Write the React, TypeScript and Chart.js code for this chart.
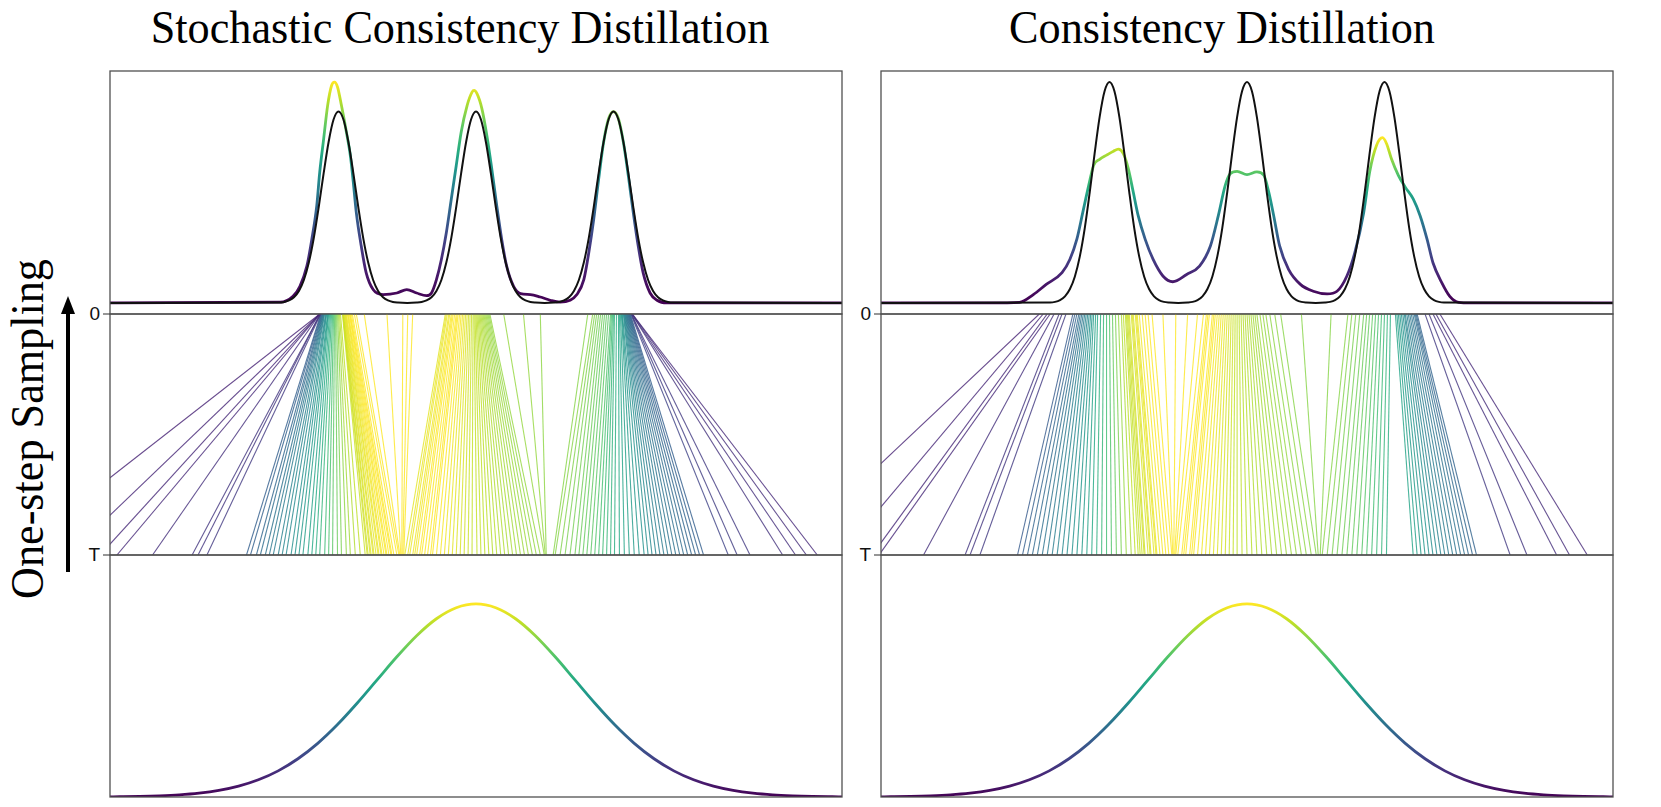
import React, { useEffect, useRef } from 'react';
import { Chart, registerables } from 'chart.js';

Chart.register(...registerables);

// ---------------- data (x in noise-space units, panel spans -3.7 .. 3.7) ----------------
// target density (black), shared by both top panels, peak height = 1
const targetX = [-3.7,
  -1.99, -1.94, -1.89, -1.84, -1.79, -1.74, -1.69, -1.64, -1.59, -1.54, -1.49, -1.44, -1.39, -1.34, -1.29, -1.24, -1.19, -1.14, -1.09, -1.04, -0.99, -0.94, -0.89, -0.84, -0.79,
  -0.695,
  -0.6, -0.55, -0.5, -0.45, -0.4, -0.35, -0.3, -0.25, -0.2, -0.15, -0.1, -0.05, 0, 0.05, 0.1, 0.15, 0.2, 0.25, 0.3, 0.35, 0.4, 0.45, 0.5, 0.55, 0.6,
  0.695,
  0.79, 0.84, 0.89, 0.94, 0.99, 1.04, 1.09, 1.14, 1.19, 1.24, 1.29, 1.34, 1.39, 1.44, 1.49, 1.54, 1.59, 1.64, 1.69, 1.74, 1.79, 1.84, 1.89, 1.94, 1.99,
  3.7];
const targetY = [0,
  0.002, 0.005, 0.013, 0.030, 0.063, 0.120, 0.211, 0.339, 0.501, 0.678, 0.841, 0.958, 1.0, 0.958, 0.841, 0.678, 0.501, 0.339, 0.211, 0.120, 0.063, 0.030, 0.013, 0.005, 0.002,
  0,
  0.002, 0.005, 0.013, 0.030, 0.063, 0.120, 0.211, 0.339, 0.501, 0.678, 0.841, 0.958, 1.0, 0.958, 0.841, 0.678, 0.501, 0.339, 0.211, 0.120, 0.063, 0.030, 0.013, 0.005, 0.002,
  0,
  0.002, 0.005, 0.013, 0.030, 0.063, 0.120, 0.211, 0.339, 0.501, 0.678, 0.841, 0.958, 1.0, 0.958, 0.841, 0.678, 0.501, 0.339, 0.211, 0.120, 0.063, 0.030, 0.013, 0.005, 0.002,
  0];

// Stochastic Consistency Distillation: generated density
const scdX = [-3.7, -1.98, -1.85, -1.78, -1.71, -1.66, -1.61, -1.58, -1.54, -1.50, -1.46, -1.43, -1.40, -1.36, -1.31, -1.27, -1.24, -1.21, -1.16, -1.11, -1.04, -0.94, -0.80, -0.70, -0.60, -0.50, -0.45, -0.40, -0.35, -0.30, -0.25, -0.20, -0.15, -0.09, -0.04, -0.02, 0.01, 0.06, 0.11, 0.16, 0.21, 0.26, 0.31, 0.38, 0.45, 0.55, 0.65, 0.75, 0.85, 0.95, 1.02, 1.09, 1.14, 1.19, 1.24, 1.29, 1.34, 1.39, 1.44, 1.49, 1.54, 1.59, 1.64, 1.69, 1.76, 1.83, 1.93, 3.7];
const scdY = [0, 0.004, 0.035, 0.087, 0.192, 0.332, 0.507, 0.682, 0.857, 1.031, 1.136, 1.154, 1.128, 1.031, 0.892, 0.769, 0.629, 0.472, 0.297, 0.157, 0.070, 0.044, 0.052, 0.070, 0.052, 0.038, 0.052, 0.122, 0.227, 0.367, 0.542, 0.717, 0.892, 1.031, 1.101, 1.110, 1.093, 1.014, 0.874, 0.699, 0.507, 0.332, 0.192, 0.087, 0.049, 0.044, 0.031, 0.014, 0.004, 0.014, 0.044, 0.122, 0.262, 0.437, 0.647, 0.839, 0.962, 1.0, 0.962, 0.839, 0.664, 0.472, 0.297, 0.157, 0.052, 0.014, 0, 0];

// Consistency Distillation: generated density
const cdX = [-3.7, -2.60, -2.30, -2.16, -2.03, -1.87, -1.79, -1.72, -1.66, -1.60, -1.55, -1.49, -1.42, -1.35, -1.30, -1.25, -1.20, -1.15, -1.10, -1.03, -0.95, -0.85, -0.75, -0.61, -0.48, -0.37, -0.29, -0.22, -0.17, -0.10, 0.0, 0.10, 0.17, 0.22, 0.27, 0.33, 0.42, 0.54, 0.67, 0.81, 0.91, 1.01, 1.09, 1.18, 1.24, 1.31, 1.37, 1.41, 1.46, 1.53, 1.60, 1.68, 1.75, 1.82, 1.88, 1.97, 2.05, 2.14, 2.26, 3.7];
const cdY = [0, 0, 0.003, 0.038, 0.084, 0.137, 0.198, 0.289, 0.410, 0.532, 0.623, 0.650, 0.669, 0.687, 0.696, 0.676, 0.608, 0.502, 0.395, 0.289, 0.198, 0.122, 0.096, 0.129, 0.167, 0.258, 0.395, 0.532, 0.585, 0.596, 0.581, 0.593, 0.578, 0.502, 0.395, 0.258, 0.152, 0.084, 0.053, 0.041, 0.053, 0.122, 0.228, 0.410, 0.593, 0.714, 0.748, 0.722, 0.653, 0.578, 0.524, 0.471, 0.395, 0.289, 0.182, 0.091, 0.030, 0.003, 0, 0];

// noise density (bottom panels)
const noiseX = [-3.7, -3.6, -3.4, -3.2, -3.0, -2.8, -2.6, -2.4, -2.2, -2.0, -1.8, -1.6, -1.4, -1.2, -1.0, -0.8, -0.6, -0.4, -0.2, 0, 0.2, 0.4, 0.6, 0.8, 1.0, 1.2, 1.4, 1.6, 1.8, 2.0, 2.2, 2.4, 2.6, 2.8, 3.0, 3.2, 3.4, 3.6, 3.7];
const noiseY = [0.0004, 0.0006, 0.0012, 0.0024, 0.0044, 0.0079, 0.0136, 0.0224, 0.0355, 0.0540, 0.0790, 0.1109, 0.1497, 0.1942, 0.2420, 0.2897, 0.3332, 0.3683, 0.3910, 0.3989, 0.3910, 0.3683, 0.3332, 0.2897, 0.2420, 0.1942, 0.1497, 0.1109, 0.0790, 0.0540, 0.0355, 0.0224, 0.0136, 0.0079, 0.0044, 0.0024, 0.0012, 0.0006, 0.0004];

// one-step trajectories: start at T (x_T), end at 0 (x_0), colour shade (0..1 viridis)
const scdStart = [
  -4.70, -4.12, -3.80, -3.63, -3.27, -2.87, -2.81, -2.72,
  -2.32, -2.28, -2.22, -2.18, -2.13, -2.09, -2.05, -2.00, -1.96, -1.92, -1.87, -1.83, -1.79, -1.75, -1.70, -1.66, -1.62, -1.58, -1.53, -1.49, -1.45, -1.40, -1.36, -1.31, -1.27, -1.22, -1.17,
  -1.12, -1.10, -1.09, -1.07, -1.06, -1.04, -1.03, -1.01, -0.99, -0.98, -0.96, -0.95, -0.93, -0.91, -0.90, -0.88, -0.86, -0.85, -0.83, -0.80, -0.78,
  -0.77, -0.76, -0.75, -0.74, -0.73,
  -0.72, -0.69, -0.67, -0.64, -0.62, -0.60, -0.57, -0.55, -0.52, -0.49, -0.46, -0.44, -0.40, -0.36, -0.32, -0.28, -0.24, -0.20, -0.16, -0.12, -0.08, -0.04,
  0.01, 0.05, 0.09, 0.13, 0.17, 0.21, 0.25, 0.29, 0.33, 0.37, 0.41, 0.45, 0.49, 0.53, 0.57, 0.61, 0.65,
  0.69, 0.70, 0.71, 0.78,
  0.80, 0.85, 0.90, 0.95, 1.00, 1.04, 1.08, 1.12, 1.16, 1.20, 1.24, 1.28, 1.32, 1.36, 1.40,
  1.45, 1.50, 1.55, 1.60, 1.65, 1.70, 1.74, 1.78, 1.82, 1.86, 1.90, 1.94, 1.98, 2.02, 2.06, 2.10, 2.14, 2.18, 2.22, 2.26, 2.30,
  2.55, 2.64, 2.77, 3.10, 3.23, 3.34, 3.45];
const scdEnd = [
  -1.58, -1.58, -1.58, -1.58, -1.58, -1.575, -1.575, -1.57,
  -1.57, -1.565, -1.56, -1.555, -1.55, -1.545, -1.54, -1.535, -1.53, -1.52, -1.515, -1.51, -1.50, -1.495, -1.49, -1.48, -1.47, -1.46, -1.45, -1.44, -1.43, -1.42, -1.41, -1.40, -1.39, -1.38, -1.37,
  -1.35, -1.347, -1.345, -1.342, -1.34, -1.335, -1.33, -1.325, -1.32, -1.315, -1.31, -1.30, -1.295, -1.29, -1.28, -1.275, -1.27, -1.26, -1.25, -1.23, -1.21,
  -1.13, -0.90, -0.74, -0.69, -0.64,
  -0.31, -0.30, -0.29, -0.275, -0.265, -0.25, -0.24, -0.23, -0.215, -0.20, -0.19, -0.18, -0.165, -0.15, -0.135, -0.12, -0.105, -0.09, -0.075, -0.06, -0.045, -0.03,
  -0.02, -0.01, 0.0, 0.01, 0.02, 0.03, 0.04, 0.05, 0.06, 0.07, 0.08, 0.09, 0.10, 0.11, 0.12, 0.13, 0.14,
  0.28, 0.48, 0.65, 1.13,
  1.18, 1.20, 1.22, 1.24, 1.26, 1.28, 1.30, 1.32, 1.34, 1.36, 1.37, 1.38, 1.39, 1.40, 1.42,
  1.44, 1.45, 1.46, 1.47, 1.475, 1.48, 1.49, 1.495, 1.50, 1.505, 1.51, 1.515, 1.52, 1.525, 1.53, 1.535, 1.54, 1.545, 1.55, 1.555, 1.56,
  1.565, 1.57, 1.57, 1.575, 1.575, 1.58, 1.58];
const scdShade = [
  0.10, 0.11, 0.12, 0.12, 0.14, 0.16, 0.16, 0.17,
  0.30, 0.31, 0.33, 0.35, 0.37, 0.39, 0.41, 0.43, 0.45, 0.47, 0.49, 0.51, 0.53, 0.55, 0.57, 0.60, 0.62, 0.65, 0.68, 0.71, 0.74, 0.77, 0.80, 0.83, 0.86, 0.88, 0.90,
  0.92, 0.93, 0.93, 0.94, 0.95, 0.95, 0.96, 0.96, 0.97, 0.97, 0.98, 0.98, 0.99, 0.99, 1.0, 1.0, 1.0, 1.0, 1.0, 1.0, 1.0,
  1.0, 1.0, 1.0, 1.0, 1.0,
  0.96, 0.97, 0.97, 0.98, 0.98, 0.99, 1.0, 1.0, 1.0, 1.0, 1.0, 1.0, 1.0, 0.99, 0.98, 0.97, 0.96, 0.95, 0.94, 0.93, 0.92, 0.91,
  0.91, 0.91, 0.90, 0.90, 0.89, 0.89, 0.88, 0.88, 0.87, 0.87, 0.86, 0.86, 0.85, 0.85, 0.84, 0.84, 0.84,
  0.84, 0.84, 0.83, 0.82,
  0.82, 0.81, 0.80, 0.79, 0.78, 0.77, 0.76, 0.75, 0.74, 0.72, 0.70, 0.68, 0.66, 0.64, 0.62,
  0.60, 0.58, 0.56, 0.54, 0.52, 0.50, 0.48, 0.46, 0.44, 0.42, 0.41, 0.40, 0.38, 0.37, 0.36, 0.35, 0.34, 0.33, 0.32, 0.31, 0.30,
  0.20, 0.18, 0.17, 0.15, 0.14, 0.13, 0.12];

const cdStart = [
  -4.68, -4.11, -3.79, -3.72, -3.27, -2.85, -2.80, -2.70,
  -2.32, -2.27, -2.22, -2.17, -2.12, -2.07, -2.02, -1.97, -1.92, -1.87, -1.82, -1.77, -1.72, -1.67,
  -1.62, -1.57, -1.52, -1.47, -1.42, -1.37, -1.32, -1.27, -1.22, -1.17,
  -1.13, -1.10, -1.08, -1.06, -1.04, -1.03, -1.00, -0.98, -0.97, -0.94, -0.92, -0.91, -0.88, -0.85, -0.82, -0.79, -0.76,
  -0.75, -0.74, -0.73, -0.72,
  -0.70, -0.66, -0.64, -0.62, -0.58, -0.56, -0.54, -0.50, -0.46, -0.42, -0.38, -0.34, -0.30, -0.26, -0.22, -0.18, -0.14,
  -0.10, -0.05, 0.00, 0.05, 0.10, 0.15, 0.20, 0.25, 0.30, 0.35, 0.40, 0.45, 0.50, 0.55, 0.60, 0.65, 0.70,
  0.72, 0.74,
  0.76, 0.81, 0.86, 0.91, 0.96, 1.01, 1.06, 1.11, 1.16, 1.21, 1.26, 1.31, 1.36, 1.41,
  1.68, 1.72, 1.76, 1.80, 1.84, 1.88, 1.92, 1.96, 2.00, 2.04, 2.08, 2.12, 2.16, 2.20, 2.24, 2.28, 2.32,
  2.66, 2.83, 3.13, 3.26, 3.44];
const cdEnd = [
  -2.10, -2.06, -2.02, -1.99, -1.95, -1.90, -1.87, -1.83,
  -1.76, -1.74, -1.72, -1.70, -1.685, -1.67, -1.655, -1.64, -1.625, -1.61, -1.595, -1.58, -1.565, -1.55,
  -1.53, -1.51, -1.48, -1.45, -1.42, -1.39, -1.36, -1.33, -1.30, -1.27,
  -1.25, -1.23, -1.22, -1.21, -1.20, -1.19, -1.17, -1.16, -1.15, -1.13, -1.12, -1.11, -1.09, -1.06, -1.03, -1.00, -0.96,
  -0.85, -0.72, -0.60, -0.50,
  -0.44, -0.41, -0.395, -0.38, -0.35, -0.335, -0.32, -0.30, -0.28, -0.26, -0.24, -0.22, -0.20, -0.18, -0.16, -0.14, -0.12,
  -0.10, -0.08, -0.06, -0.04, -0.02, 0.00, 0.02, 0.04, 0.06, 0.08, 0.10, 0.13, 0.16, 0.19, 0.23, 0.28, 0.34,
  0.55, 0.85,
  1.02, 1.06, 1.10, 1.14, 1.18, 1.21, 1.24, 1.27, 1.30, 1.33, 1.36, 1.39, 1.42, 1.45,
  1.50, 1.515, 1.53, 1.545, 1.56, 1.575, 1.59, 1.60, 1.615, 1.63, 1.645, 1.66, 1.675, 1.69, 1.70, 1.71, 1.72,
  1.80, 1.84, 1.88, 1.91, 1.95];
const cdShade = [
  0.10, 0.11, 0.12, 0.12, 0.14, 0.16, 0.16, 0.17,
  0.28, 0.30, 0.32, 0.34, 0.36, 0.38, 0.40, 0.42, 0.44, 0.46, 0.48, 0.50, 0.52, 0.54,
  0.57, 0.60, 0.63, 0.66, 0.69, 0.72, 0.76, 0.80, 0.84, 0.87,
  0.90, 0.91, 0.91, 0.92, 0.93, 0.93, 0.94, 0.95, 0.95, 0.96, 0.97, 0.97, 0.98, 0.99, 1.0, 1.0, 1.0,
  1.0, 1.0, 1.0, 1.0,
  1.0, 1.0, 1.0, 1.0, 1.0, 1.0, 0.99, 0.99, 0.98, 0.98, 0.97, 0.96, 0.95, 0.94, 0.93, 0.92, 0.91,
  0.90, 0.90, 0.89, 0.89, 0.88, 0.88, 0.87, 0.87, 0.86, 0.86, 0.85, 0.85, 0.84, 0.84, 0.83, 0.83, 0.82,
  0.82, 0.82,
  0.82, 0.81, 0.80, 0.79, 0.78, 0.77, 0.76, 0.75, 0.73, 0.71, 0.69, 0.67, 0.65, 0.62,
  0.58, 0.56, 0.54, 0.52, 0.50, 0.48, 0.46, 0.44, 0.42, 0.41, 0.40, 0.38, 0.37, 0.36, 0.34, 0.33, 0.32,
  0.17, 0.16, 0.14, 0.13, 0.12];

const titles = ['Stochastic Consistency Distillation', 'Consistency Distillation'];
const yAxisLabel = 'One-step Sampling';
const timeTicks = ['0', 'T'];

// ---------------- styling / layout ----------------
const X_MIN = -3.7;
const X_MAX = 3.7;
const PAD = 4;
const COL_LEFT = [110, 881];
const TITLE_CX = [460, 1222];
const PANEL_W = 732;
const ROW_TOP = [71, 314, 555];
const ROW_H = [243, 241, 242];
const SERIF = '"Liberation Serif", "Times New Roman", serif';

const VIRIDIS = ['#440154', '#482475', '#414487', '#355f8d', '#2a788e', '#21918c', '#22a884', '#44bf70', '#7ad151', '#bddf26', '#fde725'];

function hexRgb(h: string): number[] {
  return [parseInt(h.slice(1, 3), 16), parseInt(h.slice(3, 5), 16), parseInt(h.slice(5, 7), 16)];
}
function viridis(t: number, alpha = 1): string {
  const v = Math.min(1, Math.max(0, t)) * 10;
  const i = Math.min(9, Math.floor(v));
  const f = v - i;
  const a = hexRgb(VIRIDIS[i]);
  const b = hexRgb(VIRIDIS[i + 1]);
  const c = a.map((ai, k) => Math.round(ai + (b[k] - ai) * f));
  return `rgba(${c[0]},${c[1]},${c[2]},${alpha})`;
}

function heightGradient(chart: any, maxVal: number, gamma: number) {
  const { ctx, chartArea, scales } = chart;
  if (!chartArea || !scales || !scales.y) return VIRIDIS[0];
  const y0 = scales.y.getPixelForValue(0);
  const y1 = scales.y.getPixelForValue(maxVal);
  const g = ctx.createLinearGradient(0, y0, 0, y1);
  for (let i = 0; i <= 24; i++) {
    const p = i / 24;
    g.addColorStop(p, viridis(Math.pow(p, gamma)));
  }
  return g;
}

const framePlugin = {
  id: 'frame',
  afterDraw(chart: any) {
    const { ctx, chartArea: a } = chart;
    ctx.save();
    ctx.strokeStyle = '#505050';
    ctx.lineWidth = 1.3;
    ctx.strokeRect(a.left, a.top, a.right - a.left, a.bottom - a.top);
    ctx.restore();
  },
};

const pts = (xs: number[], ys: number[]) => xs.map((x, i) => ({ x, y: ys[i] }));

function baseOptions(yMin: number, yMax: number) {
  return {
    responsive: false,
    animation: false,
    events: [],
    layout: { padding: PAD },
    plugins: { legend: { display: false }, tooltip: { enabled: false } },
    scales: {
      x: { type: 'linear', min: X_MIN, max: X_MAX, display: false },
      y: { type: 'linear', min: yMin, max: yMax, display: false },
    },
  };
}

function densityConfig(cx: number[], cy: number[], colorMax: number, yMin: number, yMax: number) {
  return {
    type: 'line',
    data: {
      datasets: [
        {
          data: pts(targetX, targetY),
          borderColor: '#111111',
          borderWidth: 2,
          pointRadius: 0,
          cubicInterpolationMode: 'monotone',
          order: 0,
        },
        {
          data: pts(cx, cy),
          borderColor: (c: any) => heightGradient(c.chart, colorMax, 1.3),
          borderWidth: 2.8,
          pointRadius: 0,
          cubicInterpolationMode: 'monotone',
          order: 1,
        },
      ],
    },
    options: baseOptions(yMin, yMax),
    plugins: [framePlugin],
  };
}

function trajectoryConfig(starts: number[], ends: number[], shades: number[]) {
  return {
    type: 'line',
    data: {
      datasets: starts.map((s, i) => ({
        data: [{ x: s, y: 0 }, { x: ends[i], y: 1 }],
        borderColor: viridis(shades[i], 0.82),
        borderWidth: 1.1,
        pointRadius: 0,
        tension: 0,
      })),
    },
    options: baseOptions(0, 1),
    plugins: [framePlugin],
  };
}

function noiseConfig() {
  return {
    type: 'line',
    data: {
      datasets: [
        {
          data: pts(noiseX, noiseY),
          borderColor: (c: any) => heightGradient(c.chart, 0.3989, 1),
          borderWidth: 2.8,
          pointRadius: 0,
          cubicInterpolationMode: 'monotone',
        },
      ],
    },
    options: baseOptions(0, 0.5),
    plugins: [framePlugin],
  };
}

type PanelProps = { left: number; top: number; width: number; height: number; make: () => any };

function ChartPanel({ left, top, width, height, make }: PanelProps) {
  const ref = useRef<HTMLCanvasElement>(null);
  useEffect(() => {
    const chart = new Chart(ref.current as HTMLCanvasElement, make());
    return () => chart.destroy();
  }, []);
  const w = width + 2 * PAD;
  const h = height + 2 * PAD;
  return (
    <canvas
      ref={ref}
      width={w}
      height={h}
      style={{ position: 'absolute', left: left - PAD, top: top - PAD, width: w, height: h }}
    />
  );
}

export default function App() {
  const makers = [
    [
      () => densityConfig(scdX, scdY, 1.154, -0.0577, 1.2117),
      () => trajectoryConfig(scdStart, scdEnd, scdShade),
      () => noiseConfig(),
    ],
    [
      () => densityConfig(cdX, cdY, 0.748, -0.05, 1.05),
      () => trajectoryConfig(cdStart, cdEnd, cdShade),
      () => noiseConfig(),
    ],
  ];
  const tickY = [ROW_TOP[1], ROW_TOP[2]];
  return (
    <div style={{ position: 'fixed', left: 0, top: 0, width: 1661, height: 807, background: '#ffffff', overflow: 'hidden' }}>
      {titles.map((t, c) => (
        <div
          key={'t' + c}
          style={{
            position: 'absolute',
            left: TITLE_CX[c],
            top: 4,
            transform: 'translateX(-50%) scaleX(0.94)',
            whiteSpace: 'nowrap',
            fontFamily: SERIF,
            fontSize: 47,
            lineHeight: '47px',
            color: '#000',
          }}
        >
          {t}
        </div>
      ))}
      <div
        style={{
          position: 'absolute',
          left: 27,
          top: 429,
          transform: 'translate(-50%, -50%) rotate(-90deg) scaleX(0.94)',
          whiteSpace: 'nowrap',
          fontFamily: SERIF,
          fontSize: 47,
          lineHeight: '47px',
          color: '#000',
        }}
      >
        {yAxisLabel}
      </div>
      {COL_LEFT.map((cl, c) =>
        timeTicks.map((lab, k) => (
          <div
            key={'k' + c + k}
            style={{
              position: 'absolute',
              left: cl - 47,
              top: tickY[k] - 12,
              width: 37,
              height: 24,
              textAlign: 'right',
              fontFamily: '"Liberation Sans", Arial, sans-serif',
              fontSize: 19,
              lineHeight: '24px',
              color: '#111',
            }}
          >
            {lab}
          </div>
        ))
      )}
      <svg width={1661} height={807} style={{ position: 'absolute', left: 0, top: 0, pointerEvents: 'none' }}>
        <line x1={68} y1={572} x2={68} y2={310} stroke="#000" strokeWidth={4} />
        <polygon points="68,296 61,314 75,314" fill="#000" />
        {COL_LEFT.map((cl, c) =>
          tickY.map((ty, k) => (
            <line key={'tk' + c + k} x1={cl - 7} y1={ty} x2={cl} y2={ty} stroke="#505050" strokeWidth={1.2} />
          ))
        )}
      </svg>
      {COL_LEFT.map((cl, c) =>
        ROW_TOP.map((rt, r) => (
          <ChartPanel key={'p' + c + r} left={cl} top={rt} width={PANEL_W} height={ROW_H[r]} make={makers[c][r]} />
        ))
      )}
    </div>
  );
}
